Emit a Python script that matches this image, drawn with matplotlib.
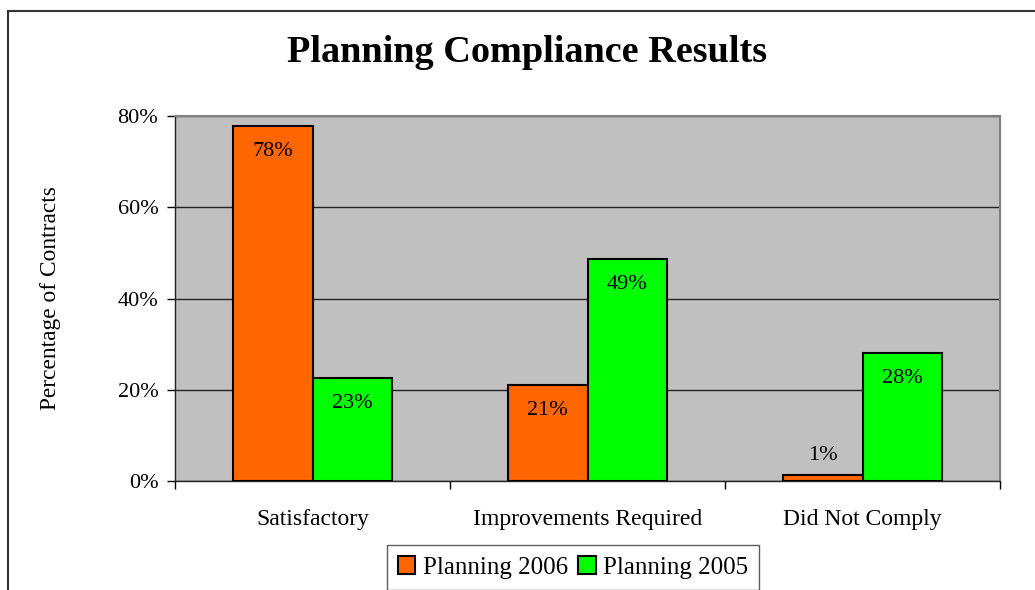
import matplotlib.pyplot as plt
from matplotlib.patches import Rectangle
import numpy as np

categories = ['Satisfactory', 'Improvements Required', 'Did Not Comply']
planning_2006 = [0.778, 0.210, 0.013]
planning_2005 = [0.226, 0.487, 0.281]
series_names = ['Planning 2006', 'Planning 2005']
yticks = [0, 0.2, 0.4, 0.6, 0.8]

plt.rcParams['font.family'] = ['Liberation Serif', 'DejaVu Serif']

fig = plt.figure(figsize=(10.35, 5.9), dpi=100)
W, H = 1035, 590

# outer chart frame (cut off at right and bottom like the reference)
fig.patches.append(Rectangle((8 / W, -0.1), 1.2, 1 - 11 / H + 0.1,
                             transform=fig.transFigure, fill=False,
                             edgecolor='#333333', linewidth=1.5))

ax = fig.add_axes([175 / W, 1 - 481 / H, 825 / W, 365 / H])
ax.set_facecolor('#c0c0c0')

x = np.arange(len(categories))
w = 0.29
b1 = ax.bar(x - w / 2, planning_2006, w, color='#ff6600', edgecolor='black', linewidth=1.5,
            label=series_names[0], zorder=3)
b2 = ax.bar(x + w / 2, planning_2005, w, color='#00ff00', edgecolor='black', linewidth=1.5,
            label=series_names[1], zorder=3)

# value labels
for bars in (b1, b2):
    for rect in bars:
        v = rect.get_height()
        txt = '%d%%' % round(v * 100)
        cx = rect.get_x() + rect.get_width() / 2
        if v < 0.05:
            ax.annotate(txt, (cx, v), xytext=(0, 14), textcoords='offset points',
                        ha='center', va='center', fontsize=16, zorder=4)
        else:
            ax.annotate(txt, (cx, v), xytext=(0, -18.5), textcoords='offset points',
                        ha='center', va='center', fontsize=16, zorder=4)

ax.set_xlim(-0.5, len(categories) - 0.5)
ax.set_ylim(0, 0.8)
ax.set_yticks(yticks)
ax.set_yticklabels(['%d%%' % round(t * 100) for t in yticks], fontsize=16)
ax.yaxis.grid(True, color='#222222', linewidth=1)
ax.set_axisbelow(True)

ax.set_xticks(np.arange(-0.5, len(categories), 1))
ax.set_xticklabels([])
ax.set_xticks(x, minor=True)
ax.set_xticklabels(categories, minor=True, fontsize=17)
ax.tick_params(axis='x', which='minor', length=0, pad=20)
ax.tick_params(axis='x', which='major', direction='out', length=6, width=1)
ax.tick_params(axis='y', direction='out', length=6, width=1, pad=6)

for s in ['top', 'right']:
    ax.spines[s].set_color('#808080')
    ax.spines[s].set_linewidth(1.5)
for s in ['left', 'bottom']:
    ax.spines[s].set_color('#222222')
    ax.spines[s].set_linewidth(1)

ax.set_ylabel('Percentage of Contracts', fontsize=16.8)
ax.yaxis.set_label_coords(-(175 - 61) / 825, 0.5)

fig.text(527 / W, 1 - 53 / H, 'Planning Compliance Results', ha='center', va='center',
         fontsize=27.5, fontweight='bold')

leg = fig.legend(loc='upper center', bbox_to_anchor=(573 / W, 1 - 545 / H), ncol=2,
                 fontsize=18, frameon=True, fancybox=False, edgecolor='#333333',
                 handlelength=0.7, handleheight=0.7, handletextpad=0.3,
                 columnspacing=0.4, borderaxespad=0, borderpad=0.45)
leg.get_frame().set_linewidth(1)

plt.savefig('out.png', dpi=100)
